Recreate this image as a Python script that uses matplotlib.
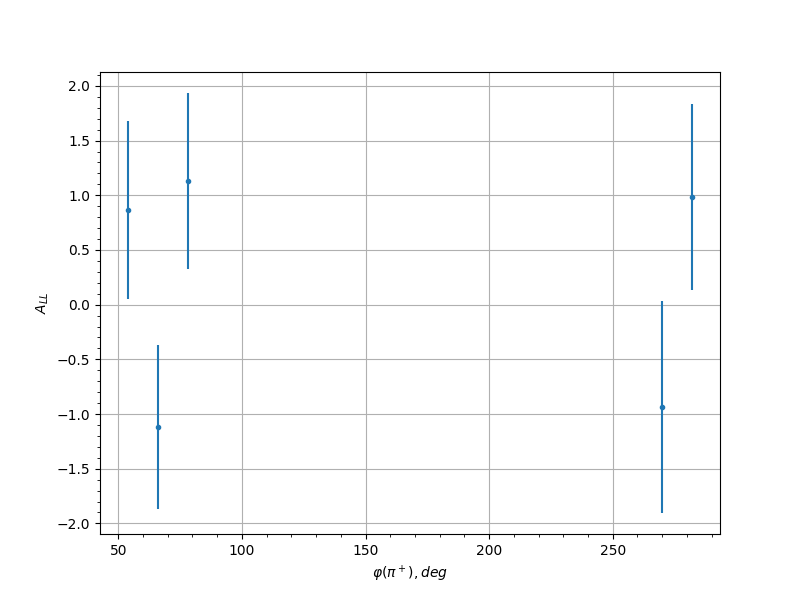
import numpy as np
import matplotlib
matplotlib.use('Agg')
import matplotlib.pyplot as plt

phi = np.array([54, 66, 78, 270, 282])
a_ll = np.array([0.865, -1.12, 1.13, -0.935, 0.984])
err = np.array([0.81, 0.75, 0.805, 0.97, 0.85])

fig, ax = plt.subplots(figsize=(8, 6), dpi=100)
ax.errorbar(phi, a_ll, yerr=err, fmt='.', markersize=6)
ax.set_xlabel(r'$\varphi(\pi^+), deg$')
ax.set_ylabel(r'$A_{LL}$')
ax.minorticks_on()
ax.grid(which='major')
fig.savefig('out.png')
